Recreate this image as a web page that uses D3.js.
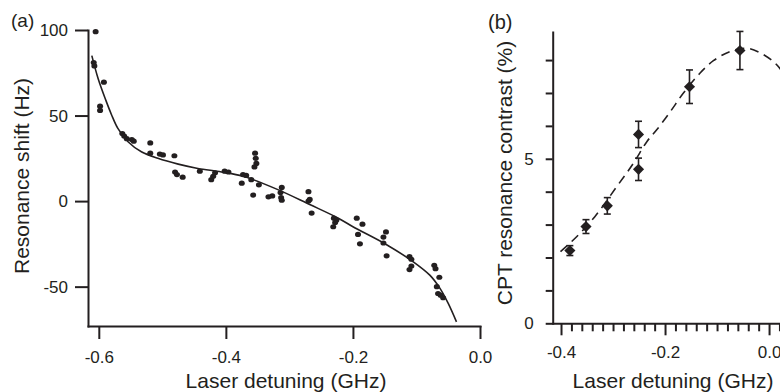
<!DOCTYPE html>
<html>
<head>
<meta charset="utf-8">
<script src="https://cdn.jsdelivr.net/npm/d3@7"></script>
<style>
    body { margin: 0; background: #fff; }
    svg text { font-family: "Liberation Sans", Arial, sans-serif; fill: #231f20; }
    .axis path, .axis line { stroke: #231f20; stroke-width: 2; }
    .axis path { stroke-linecap: square; }
</style>
</head>
<body>
<div id="chart"></div>
<script>
// (a) resonance shift vs laser detuning
const shiftX = [-0.605, -0.608, -0.607, -0.592, -0.598, -0.598, -0.563, -0.560, -0.556, -0.548, -0.545,
    -0.519, -0.519, -0.504, -0.499, -0.481, -0.480, -0.477, -0.468, -0.441, -0.423, -0.420, -0.417,
    -0.402, -0.396, -0.373, -0.368, -0.375, -0.354, -0.353, -0.352, -0.355, -0.360, -0.348, -0.357,
    -0.333, -0.327, -0.314, -0.313, -0.312, -0.312, -0.270, -0.268, -0.270, -0.265,
    -0.230, -0.226, -0.228, -0.231, -0.194, -0.185, -0.192, -0.189, -0.148, -0.152, -0.152, -0.147,
    -0.111, -0.108, -0.108, -0.111, -0.072, -0.070, -0.064, -0.068, -0.066, -0.062, -0.058];
const shiftY = [99, 81, 79, 69.5, 55.5, 53, 39.5, 38, 36.5, 36, 35,
    34, 28, 27.5, 27, 26.5, 17, 15.5, 14, 17.5, 12.5, 14.5, 16.5,
    17.5, 17, 15.5, 15, 10.5, 28, 25, 22, 20, 12.5, 9.5, 3.5,
    2.5, 3, 5, 2, 0.5, 8, 5.5, 1, 0, -7,
    -10, -11, -12.5, -15, -10, -13.5, -19.5, -25, -18, -21, -24.5, -32,
    -32.5, -34, -38, -40, -37.5, -39.5, -44.5, -50, -54, -55, -56.5];

// fitted curve
const fitX = [-0.611, -0.601, -0.589, -0.580, -0.570, -0.554, -0.533, -0.507, -0.475, -0.444, -0.407,
    -0.373, -0.320, -0.268, -0.223, -0.200, -0.147, -0.105, -0.079, -0.063, -0.050, -0.037];
const fitY = [85, 71.5, 59, 50.5, 42.5, 34.7, 28.8, 25, 21.6, 19.1, 17,
    14.5, 7, -2, -10, -15, -25.5, -35.5, -43.3, -51, -59.8, -70.6];

const xTicksA = [-0.6, -0.4, -0.2, 0];
const yTicksA = [-50, 0, 50, 100];

// (b) CPT resonance contrast
const contrastX = [-0.383, -0.352, -0.311, -0.251, -0.251, -0.153, -0.056];
const contrastY = [2.21, 2.94, 3.57, 4.68, 5.74, 7.19, 8.29];
const contrastErr = [0.15, 0.21, 0.25, 0.34, 0.40, 0.51, 0.58];

const dashX = [-0.401, -0.370, -0.335, -0.293, -0.261, -0.235, -0.216, -0.190, -0.165, -0.133,
    -0.107, -0.075, -0.043, -0.017, 0.012, 0.03];
const dashY = [2.18, 2.63, 3.24, 4.15, 4.86, 5.52, 5.88, 6.43, 6.99, 7.6,
    7.98, 8.26, 8.36, 8.22, 7.90, 7.55];

const xTicksB = [-0.4, -0.2, 0];
const yTicksB = d3.range(0, 9);

let ink = "#231f20";

let svg = d3.select("#chart")
    .append("svg")
    .attr("width", 780)
    .attr("height", 392);

function styleAxis(g, size) {
    g.attr("font-size", size).attr("font-family", "Liberation Sans, Arial, sans-serif");
}

// ---------- panel (a) ----------
let xA = d3.scaleLinear().domain([-0.617, 0]).range([88, 480]);
let yA = d3.scaleLinear().domain([-73, 100]).range([326, 30]);

let gA = svg.append("g");

gA.append("g")
    .attr("class", "axis")
    .attr("transform", "translate(0,326)")
    .call(d3.axisBottom(xA).tickValues(xTicksA).tickFormat(d => d.toFixed(1))
        .tickSize(13).tickPadding(12).tickSizeOuter(0))
    .call(g => styleAxis(g, 17));

gA.append("g")
    .attr("class", "axis")
    .attr("transform", "translate(88,0)")
    .call(d3.axisLeft(yA).tickValues(yTicksA).tickFormat(d => String(d))
        .tickSize(13).tickPadding(7).tickSizeOuter(0))
    .call(g => styleAxis(g, 17));

let lineA = d3.line()
    .x(d => xA(d[0]))
    .y(d => yA(d[1]))
    .curve(d3.curveCatmullRom);

gA.append("path")
    .datum(fitX.map((x, i) => [x, fitY[i]]))
    .attr("d", lineA)
    .attr("fill", "none")
    .attr("stroke", ink)
    .attr("stroke-width", 1.6);

gA.selectAll("ellipse.pt")
    .data(shiftX.map((x, i) => [x, shiftY[i]]))
    .enter()
    .append("ellipse")
    .attr("class", "pt")
    .attr("cx", d => xA(d[0]))
    .attr("cy", d => yA(d[1]))
    .attr("rx", 3)
    .attr("ry", 2.6)
    .attr("fill", ink);

gA.append("text")
    .attr("transform", "translate(28.5,176) rotate(-90)")
    .attr("text-anchor", "middle")
    .attr("font-size", 21)
    .text("Resonance shift (Hz)");

gA.append("text")
    .attr("x", 286)
    .attr("y", 388)
    .attr("text-anchor", "middle")
    .attr("font-size", 21)
    .text("Laser detuning (GHz)");

gA.append("text")
    .attr("x", 11)
    .attr("y", 27)
    .attr("font-size", 19)
    .text("(a)");

// ---------- panel (b) ----------
let xB = d3.scaleLinear().domain([-0.416, 0.042]).range([552.7, 790.9]);
let yB = d3.scaleLinear().domain([0, 8.85]).range([323.3, 32.1]);

let gB = svg.append("g");

let minorTicks = d3.range(0, 22).map(i => +(-0.4 + i * 0.02).toFixed(2))
    .filter(v => !xTicksB.includes(v));

gB.append("g")
    .attr("class", "axis")
    .attr("transform", "translate(0,323.3)")
    .call(d3.axisBottom(xB).tickValues(minorTicks).tickFormat("")
        .tickSize(8).tickSizeOuter(0));

gB.append("g")
    .attr("class", "axis")
    .attr("transform", "translate(0,323.3)")
    .call(d3.axisBottom(xB).tickValues(xTicksB).tickFormat(d => d.toFixed(1))
        .tickSize(12).tickPadding(11).tickSizeOuter(0))
    .call(g => g.select(".domain").remove())
    .call(g => styleAxis(g, 17));

gB.append("g")
    .attr("class", "axis")
    .attr("transform", "translate(552.7,0)")
    .call(d3.axisLeft(yB).tickValues(yTicksB).tickFormat(d => d % 5 === 0 ? String(d) : "")
        .tickSize(7).tickPadding(12).tickSizeOuter(0))
    .call(g => styleAxis(g, 17));

let lineB = d3.line()
    .x(d => xB(d[0]))
    .y(d => yB(d[1]))
    .curve(d3.curveCatmullRom);

gB.append("path")
    .datum(dashX.map((x, i) => [x, dashY[i]]))
    .attr("d", lineB)
    .attr("fill", "none")
    .attr("stroke", ink)
    .attr("stroke-width", 1.6)
    .attr("stroke-dasharray", "9,6");

let pointsB = contrastX.map((x, i) => ({ x: x, y: contrastY[i], e: contrastErr[i] }));

let bars = gB.selectAll("g.err")
    .data(pointsB)
    .enter()
    .append("g")
    .attr("class", "err")
    .attr("stroke", ink)
    .attr("stroke-width", 1.6);

bars.append("line")
    .attr("x1", d => xB(d.x)).attr("x2", d => xB(d.x))
    .attr("y1", d => yB(d.y - d.e)).attr("y2", d => yB(d.y + d.e));

bars.append("line")
    .attr("x1", d => xB(d.x) - 3.5).attr("x2", d => xB(d.x) + 3.5)
    .attr("y1", d => yB(d.y + d.e)).attr("y2", d => yB(d.y + d.e));

bars.append("line")
    .attr("x1", d => xB(d.x) - 3.5).attr("x2", d => xB(d.x) + 3.5)
    .attr("y1", d => yB(d.y - d.e)).attr("y2", d => yB(d.y - d.e));

gB.selectAll("path.diamond")
    .data(pointsB)
    .enter()
    .append("path")
    .attr("class", "diamond")
    .attr("d", d3.symbol(d3.symbolSquare, 62))
    .attr("transform", d => `translate(${xB(d.x)},${yB(d.y)}) rotate(45)`)
    .attr("fill", ink);

gB.append("text")
    .attr("transform", "translate(511.5,173) rotate(-90)")
    .attr("text-anchor", "middle")
    .attr("font-size", 21)
    .text("CPT resonance contrast (%)");

gB.append("text")
    .attr("x", 673)
    .attr("y", 388)
    .attr("text-anchor", "middle")
    .attr("font-size", 21)
    .text("Laser detuning (GHz)");

gB.append("text")
    .attr("x", 488)
    .attr("y", 29)
    .attr("font-size", 20)
    .text("(b)");
</script>
</body>
</html>
